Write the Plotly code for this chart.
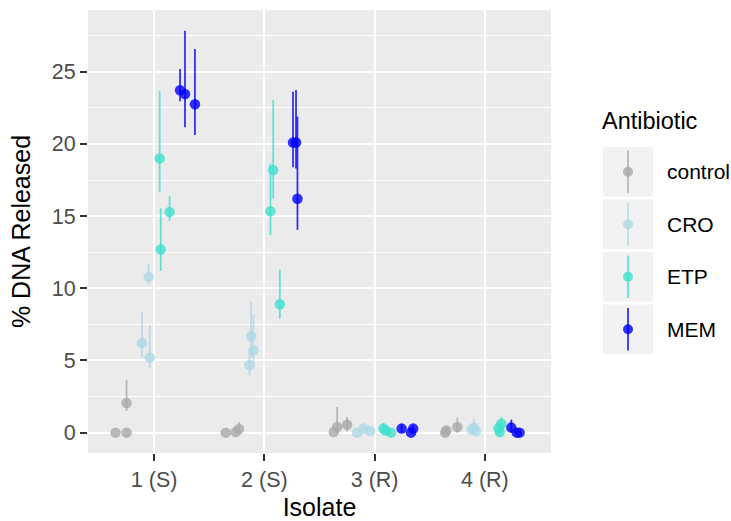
import plotly.graph_objects as go

# ---------------- data ----------------
isolates = ["1 (S)", "2 (S)", "3 (R)", "4 (R)"]
antibiotics = ["control", "CRO", "ETP", "MEM"]
colors = {"control": "#A9A9A9", "CRO": "#ADD8E6", "ETP": "#40E0D0", "MEM": "#0000FF"}

# three replicates per isolate (isolate index 1..4 repeated)
isolate_idx = [1, 1, 1, 2, 2, 2, 3, 3, 3, 4, 4, 4]

control_val = [0.0, 0.0, 2.05, 0.0, 0.05, 0.25, 0.04, 0.39, 0.55, 0.0, 0.15, 0.39]
control_lo = [0.0, 0.0, 1.50, 0.0, 0.0, 0.0, 0.04, 0.0, 0.10, 0.0, 0.0, 0.0]
control_hi = [0.0, 0.0, 3.63, 0.0, 0.1, 0.74, 0.04, 1.78, 1.08, 0.0, 0.40, 1.04]

cro_val = [6.21, 10.79, 5.20, 6.67, 5.69, 4.69, 0.0, 0.28, 0.11, 0.35, 0.20, 0.10]
cro_lo = [5.23, 10.28, 4.43, 5.20, 4.90, 3.96, 0.0, 0.18, 0.05, 0.10, 0.05, 0.0]
cro_hi = [8.32, 11.72, 7.44, 9.06, 8.20, 5.50, 0.05, 0.38, 0.20, 0.97, 0.40, 0.20]

etp_val = [19.0, 15.28, 12.69, 18.19, 15.33, 8.90, 0.28, 0.15, 0.0, 0.05, 0.62, 0.30]
etp_lo = [16.66, 14.68, 11.21, 16.23, 13.68, 7.90, 0.10, 0.05, 0.0, 0.0, 0.20, 0.10]
etp_hi = [23.65, 16.39, 15.53, 23.04, 18.65, 11.30, 0.69, 0.30, 0.05, 0.10, 1.08, 0.50]

mem_val = [23.72, 23.46, 22.75, 20.10, 20.10, 16.20, 0.28, 0.0, 0.28, 0.35, 0.0, 0.0]
mem_lo = [22.95, 21.15, 20.62, 18.38, 18.30, 14.05, 0.0, 0.0, 0.10, 0.0, 0.0, 0.0]
mem_hi = [25.20, 27.85, 26.58, 23.62, 23.74, 21.90, 0.60, 0.05, 0.50, 0.90, 0.05, 0.05]

# dodge + jitter offsets (position adjustment, as in position_jitterdodge)
control_jit = [-0.35, -0.25, -0.25, -0.35, -0.26, -0.23, -0.37, -0.34, -0.25, -0.36, -0.35, -0.25]
cro_jit = [-0.11, -0.05, -0.04, -0.12, -0.10, -0.135, -0.16, -0.10, -0.04, -0.10, -0.12, -0.08]
etp_jit = [0.05, 0.14, 0.06, 0.08, 0.055, 0.14, 0.08, 0.10, 0.15, 0.135, 0.15, 0.125]
mem_jit = [0.235, 0.28, 0.37, 0.26, 0.287, 0.30, 0.245, 0.33, 0.35, 0.24, 0.29, 0.315]

series = {
    "control": (control_val, control_lo, control_hi, control_jit),
    "CRO": (cro_val, cro_lo, cro_hi, cro_jit),
    "ETP": (etp_val, etp_lo, etp_hi, etp_jit),
    "MEM": (mem_val, mem_lo, mem_hi, mem_jit),
}

# ---------------- style ----------------
W, H = 731, 521
ML, MR, MT, MB = 88, 180, 10, 68
ALPHA = 0.8
FONT = "Liberation Sans, Arial, Helvetica, sans-serif"
TICK_SIZE = 21.5
TITLE_SIZE = 25
LEG_TITLE_SIZE = 23.5
LEG_LABEL_SIZE = 21


def rgba(hexc, a):
    h = hexc.lstrip("#")
    r, g, b = int(h[0:2], 16), int(h[2:4], 16), int(h[4:6], 16)
    return f"rgba({r},{g},{b},{a})"


fig = go.Figure()
for ab in antibiotics:
    v, lo, hi, jit = series[ab]
    xs = [i + j for i, j in zip(isolate_idx, jit)]
    fig.add_trace(go.Scatter(
        x=xs, y=v, mode="markers", name=ab, showlegend=False,
        marker=dict(size=10.5, color=rgba(colors[ab], ALPHA), line=dict(width=0)),
        error_y=dict(type="data", symmetric=False,
                     array=[h - y for h, y in zip(hi, v)],
                     arrayminus=[y - l for y, l in zip(v, lo)],
                     color=rgba(colors[ab], ALPHA), thickness=1.8, width=0),
        hoverinfo="x+y",
    ))

fig.update_layout(
    width=W, height=H,
    margin=dict(l=ML, r=MR, t=MT, b=MB, pad=0, autoexpand=False),
    paper_bgcolor="white", plot_bgcolor="#EBEBEB",
    font=dict(family=FONT, size=TICK_SIZE, color="#4D4D4D"),
)
fig.update_xaxes(
    range=[0.4, 4.6], tickmode="array", tickvals=[1, 2, 3, 4], ticktext=isolates,
    showgrid=True, gridcolor="white", gridwidth=2, zeroline=False,
    ticks="outside", ticklen=7, tickwidth=2, tickcolor="#333333",
    tickfont=dict(size=TICK_SIZE, color="#4D4D4D"),
    title=dict(text="Isolate", font=dict(size=TITLE_SIZE, color="black"), standoff=10),
    showline=False, automargin=False,
)
fig.update_yaxes(
    range=[-1.41, 29.28], tickmode="array", tickvals=[0, 5, 10, 15, 20, 25],
    showgrid=True, gridcolor="white", gridwidth=2, zeroline=False,
    minor=dict(tickmode="array", tickvals=[2.5, 7.5, 12.5, 17.5, 22.5, 27.5],
               showgrid=True, gridcolor="white", gridwidth=1, ticks=""),
    ticks="outside", ticklen=7, tickwidth=2, tickcolor="#333333",
    tickfont=dict(size=TICK_SIZE, color="#4D4D4D"),
    title=dict(text="% DNA Released", font=dict(size=TITLE_SIZE, color="black"), standoff=14),
    showline=False, automargin=False,
)

# ---------------- manual ggplot-style legend ----------------
PW = W - ML - MR
PH = H - MT - MB


def px(xp):
    return (xp - ML) / PW


def py(yp):
    return 1 - (yp - MT) / PH


shapes = []
annotations = []
annotations.append(dict(text="Antibiotic", xref="paper", yref="paper",
                        x=px(600), y=py(121), xanchor="left", yanchor="middle",
                        showarrow=False, font=dict(size=LEG_TITLE_SIZE, color="black", family=FONT)))
key_top = 147
key_h = 49.5
key_step = 52.5
for k, ab in enumerate(antibiotics):
    t = key_top + k * key_step
    b = t + key_h
    cy = (t + b) / 2
    shapes.append(dict(type="rect", xref="paper", yref="paper",
                       x0=px(603), x1=px(653), y0=py(b), y1=py(t),
                       fillcolor="#F2F2F2", line=dict(width=0), layer="below"))
    shapes.append(dict(type="line", xref="paper", yref="paper",
                       x0=px(628), x1=px(628), y0=py(b - 3.5), y1=py(t + 3.5),
                       line=dict(color=rgba(colors[ab], ALPHA), width=1.8)))
    shapes.append(dict(type="circle", xref="paper", yref="paper",
                       x0=px(623), x1=px(633), y0=py(cy + 5), y1=py(cy - 5),
                       fillcolor=rgba(colors[ab], ALPHA), line=dict(width=0)))
    annotations.append(dict(text=ab, xref="paper", yref="paper",
                            x=px(665), y=py(cy), xanchor="left", yanchor="middle",
                            showarrow=False, font=dict(size=LEG_LABEL_SIZE, color="black", family=FONT)))

fig.update_layout(shapes=shapes, annotations=annotations)

fig.write_html("out.html")
